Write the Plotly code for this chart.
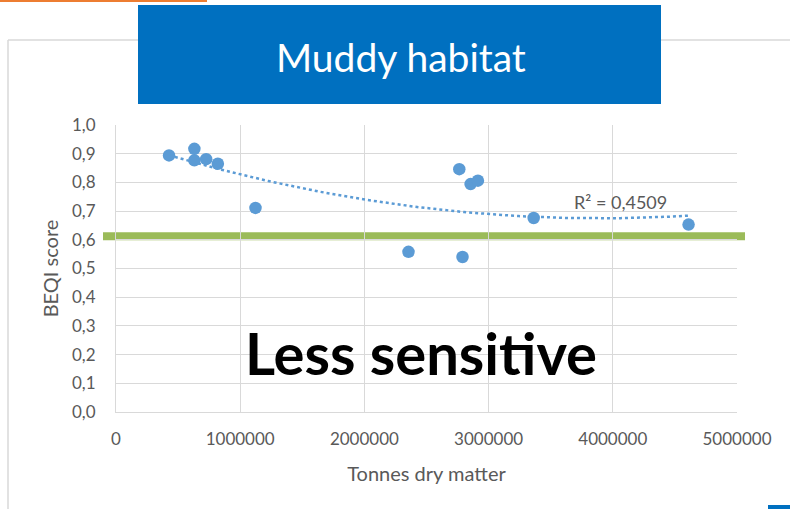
import numpy as np
import plotly.graph_objects as go

# Data variables
tonnes = [427000, 631000, 631000, 726000, 820000, 1123000, 2355000,
          2764000, 2790000, 2855000, 2914000, 3363000, 4610000]
beqi = [0.894, 0.917, 0.877, 0.881, 0.865, 0.711, 0.558,
        0.846, 0.540, 0.794, 0.806, 0.676, 0.653]
threshold = 0.612
r2_label = "R² = 0,4509"

x_ticks = [0, 1000000, 2000000, 3000000, 4000000, 5000000]
x_tick_labels = ["0", "1000000", "2000000", "3000000", "4000000", "5000000"]
y_ticks = [0.0, 0.1, 0.2, 0.3, 0.4, 0.5, 0.6, 0.7, 0.8, 0.9, 1.0]
y_tick_labels = ["0,0", "0,1", "0,2", "0,3", "0,4", "0,5",
                 "0,6", "0,7", "0,8", "0,9", "1,0"]

W, H = 790, 509
L, R, T, B = 116, 737, 125, 412
FONT = "Lato"
GREY = "#595959"


# pixel -> paper helpers for the decorations around the chart
def px(p):
    return (p - L) / (R - L)


def py(p):
    return (B - p) / (B - T)


# polynomial trendline (order 2), like excel
coef = np.polyfit(tonnes, beqi, 2)
trend_x = np.linspace(min(tonnes), max(tonnes), 200)
trend_y = np.polyval(coef, trend_x)

fig = go.Figure()

fig.add_trace(go.Scatter(
    x = trend_x,
    y = trend_y,
    mode = 'lines',
    line = dict(color = '#5B9BD5', width = 2.5, dash = 'dot'),
    hoverinfo = 'skip',
    showlegend = False
))

fig.add_trace(go.Scatter(
    x = tonnes,
    y = beqi,
    mode = 'markers',
    marker = dict(color = '#5B9BD5', size = 12.5),
    showlegend = False
))

shapes = [
    # threshold line
    dict(type = 'line', xref = 'paper', yref = 'y',
         x0 = px(103), x1 = px(745), y0 = threshold, y1 = threshold,
         line = dict(color = '#9BBB59', width = 8), layer = 'between'),
    # chart border
    dict(type = 'line', xref = 'paper', yref = 'paper',
         x0 = px(8), x1 = px(8), y0 = py(40), y1 = py(509),
         line = dict(color = '#D9D9D9', width = 1.5)),
    dict(type = 'line', xref = 'paper', yref = 'paper',
         x0 = px(8), x1 = px(790), y0 = py(40), y1 = py(40),
         line = dict(color = '#D9D9D9', width = 1.5)),
    # title box
    dict(type = 'rect', xref = 'paper', yref = 'paper',
         x0 = px(138), x1 = px(661), y0 = py(5), y1 = py(104),
         fillcolor = '#0070C0', line = dict(width = 0)),
    # orange strip top left
    dict(type = 'rect', xref = 'paper', yref = 'paper',
         x0 = px(0), x1 = px(207), y0 = py(0), y1 = py(2),
         fillcolor = '#ED7D31', line = dict(width = 0)),
    # small blue tab bottom right
    dict(type = 'rect', xref = 'paper', yref = 'paper',
         x0 = px(768), x1 = px(792), y0 = py(505), y1 = py(512),
         fillcolor = '#0070C0', line = dict(width = 0)),
]

annotations = [
    dict(text = 'Muddy habitat', xref = 'paper', yref = 'paper',
         x = px(401), y = py(57), xanchor = 'center', yanchor = 'middle',
         showarrow = False,
         font = dict(family = FONT, size = 39, color = 'white')),
    dict(text = '<b>Less sensitive</b>', xref = 'paper', yref = 'paper',
         x = px(421), y = py(352), xanchor = 'center', yanchor = 'middle',
         showarrow = False,
         font = dict(family = FONT, size = 58, color = 'black')),
    dict(text = r2_label, xref = 'paper', yref = 'paper',
         x = px(620), y = py(202), xanchor = 'center', yanchor = 'middle',
         showarrow = False,
         font = dict(family = FONT, size = 18, color = GREY)),
]

fig.update_layout(
    width = W,
    height = H,
    margin = dict(l = L, r = W - R, t = T, b = H - B),
    paper_bgcolor = 'white',
    plot_bgcolor = 'white',
    font = dict(family = FONT, color = GREY, size = 16),
    shapes = shapes,
    annotations = annotations,
    xaxis = dict(
        range = [0, 5000000],
        tickvals = x_ticks,
        ticktext = x_tick_labels,
        showgrid = True,
        gridcolor = '#D9D9D9',
        showline = True,
        linecolor = '#D9D9D9',
        zeroline = False,
        ticklabelstandoff = 12,
        tickfont = dict(size = 17),
        title = dict(text = 'Tonnes dry matter', font = dict(size = 20), standoff = 18),
    ),
    yaxis = dict(
        range = [0, 1.0],
        tickvals = y_ticks,
        ticktext = y_tick_labels,
        showgrid = True,
        gridcolor = '#D9D9D9',
        showline = True,
        linecolor = '#D9D9D9',
        zeroline = False,
        ticklabelstandoff = 16,
        tickfont = dict(size = 17),
        title = dict(text = 'BEQI score', font = dict(size = 20), standoff = 8),
    ),
)

fig.write_html("out.html", config = {'displayModeBar': False},
               post_script = "document.body.style.margin = '0';")
